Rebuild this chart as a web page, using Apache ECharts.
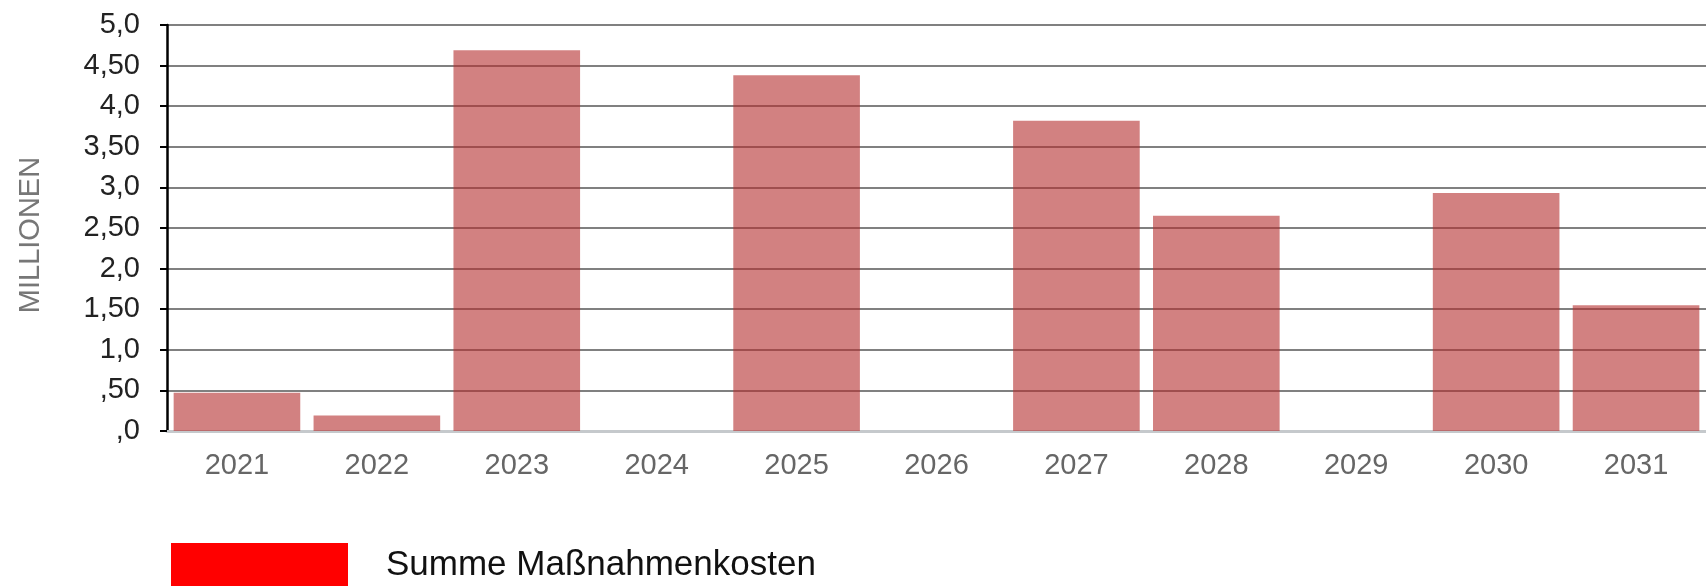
<!DOCTYPE html>
<html>
<head>
<meta charset="utf-8">
<script src="https://cdn.jsdelivr.net/npm/echarts@6/dist/echarts.min.js"></script>
<style>
 html, body { margin: 0; padding: 0; background: #fff; }
 #chart { width: 1706px; height: 586px; }
</style>
</head>
<body>
<div id="chart"></div>
<script>
const years = ['2021', '2022', '2023', '2024', '2025', '2026', '2027', '2028', '2029', '2030', '2031']
const kosten = [0.47, 0.19, 4.69, 0, 4.38, 0, 3.82, 2.65, 0, 2.93, 1.55]
const yTickLabels = [',0', ',50', '1,0', '1,50', '2,0', '2,50', '3,0', '3,50', '4,0', '4,50', '5,0']
const seriesName = 'Summe Maßnahmenkosten'

const font = 'Liberation Sans, Arial, sans-serif'
const chart = echarts.init(document.getElementById('chart'))

chart.setOption({
 backgroundColor: '#fff',
 animation: false,
 textStyle: { fontFamily: font },
 grid: { left: 167, right: -6, top: 25, bottom: 155, containLabel: false },
 legend: {
 data: [{ name: seriesName, itemStyle: { color: '#ff0000', opacity: 1 } }],
 left: 171,
 top: 543,
 padding: 0,
 icon: 'rect',
 itemWidth: 177,
 itemHeight: 44,
 textStyle: { fontSize: 35, color: '#111', fontFamily: font, padding: [10, 0, 0, 33] },
 },
 xAxis: {
 type: 'category',
 data: years,
 axisLine: { lineStyle: { color: '#c5c9cc', width: 3 } },
 axisTick: { length: 7, lineStyle: { color: '#a9b6bf', width: 2 } },
 axisLabel: { color: '#666', fontSize: 29, margin: 20, fontFamily: font },
 },
 yAxis: {
 type: 'value',
 min: 0,
 max: 5,
 interval: 0.5,
 name: 'MILLIONEN',
 nameLocation: 'middle',
 nameGap: 122,
 nameTextStyle: { color: '#777', fontSize: 29, fontFamily: font, padding: [0, 14, 0, 0] },
 axisLine: { show: true, lineStyle: { color: '#000', width: 2.5 } },
 axisTick: { show: true, length: 7, lineStyle: { color: '#000', width: 2 } },
 axisLabel: {
 color: '#222',
 fontSize: 29,
 margin: 27,
 fontFamily: font,
 formatter: v => yTickLabels[Math.round(v / 0.5)],
 },
 splitLine: { lineStyle: { color: '#808080', width: 2 } },
 },
 series: [{
 name: seriesName,
 type: 'bar',
 data: kosten,
 barCategoryGap: '9.5%',
 itemStyle: { color: 'rgba(180, 45, 45, 0.6)' },
 }],
})
</script>
</body>
</html>
